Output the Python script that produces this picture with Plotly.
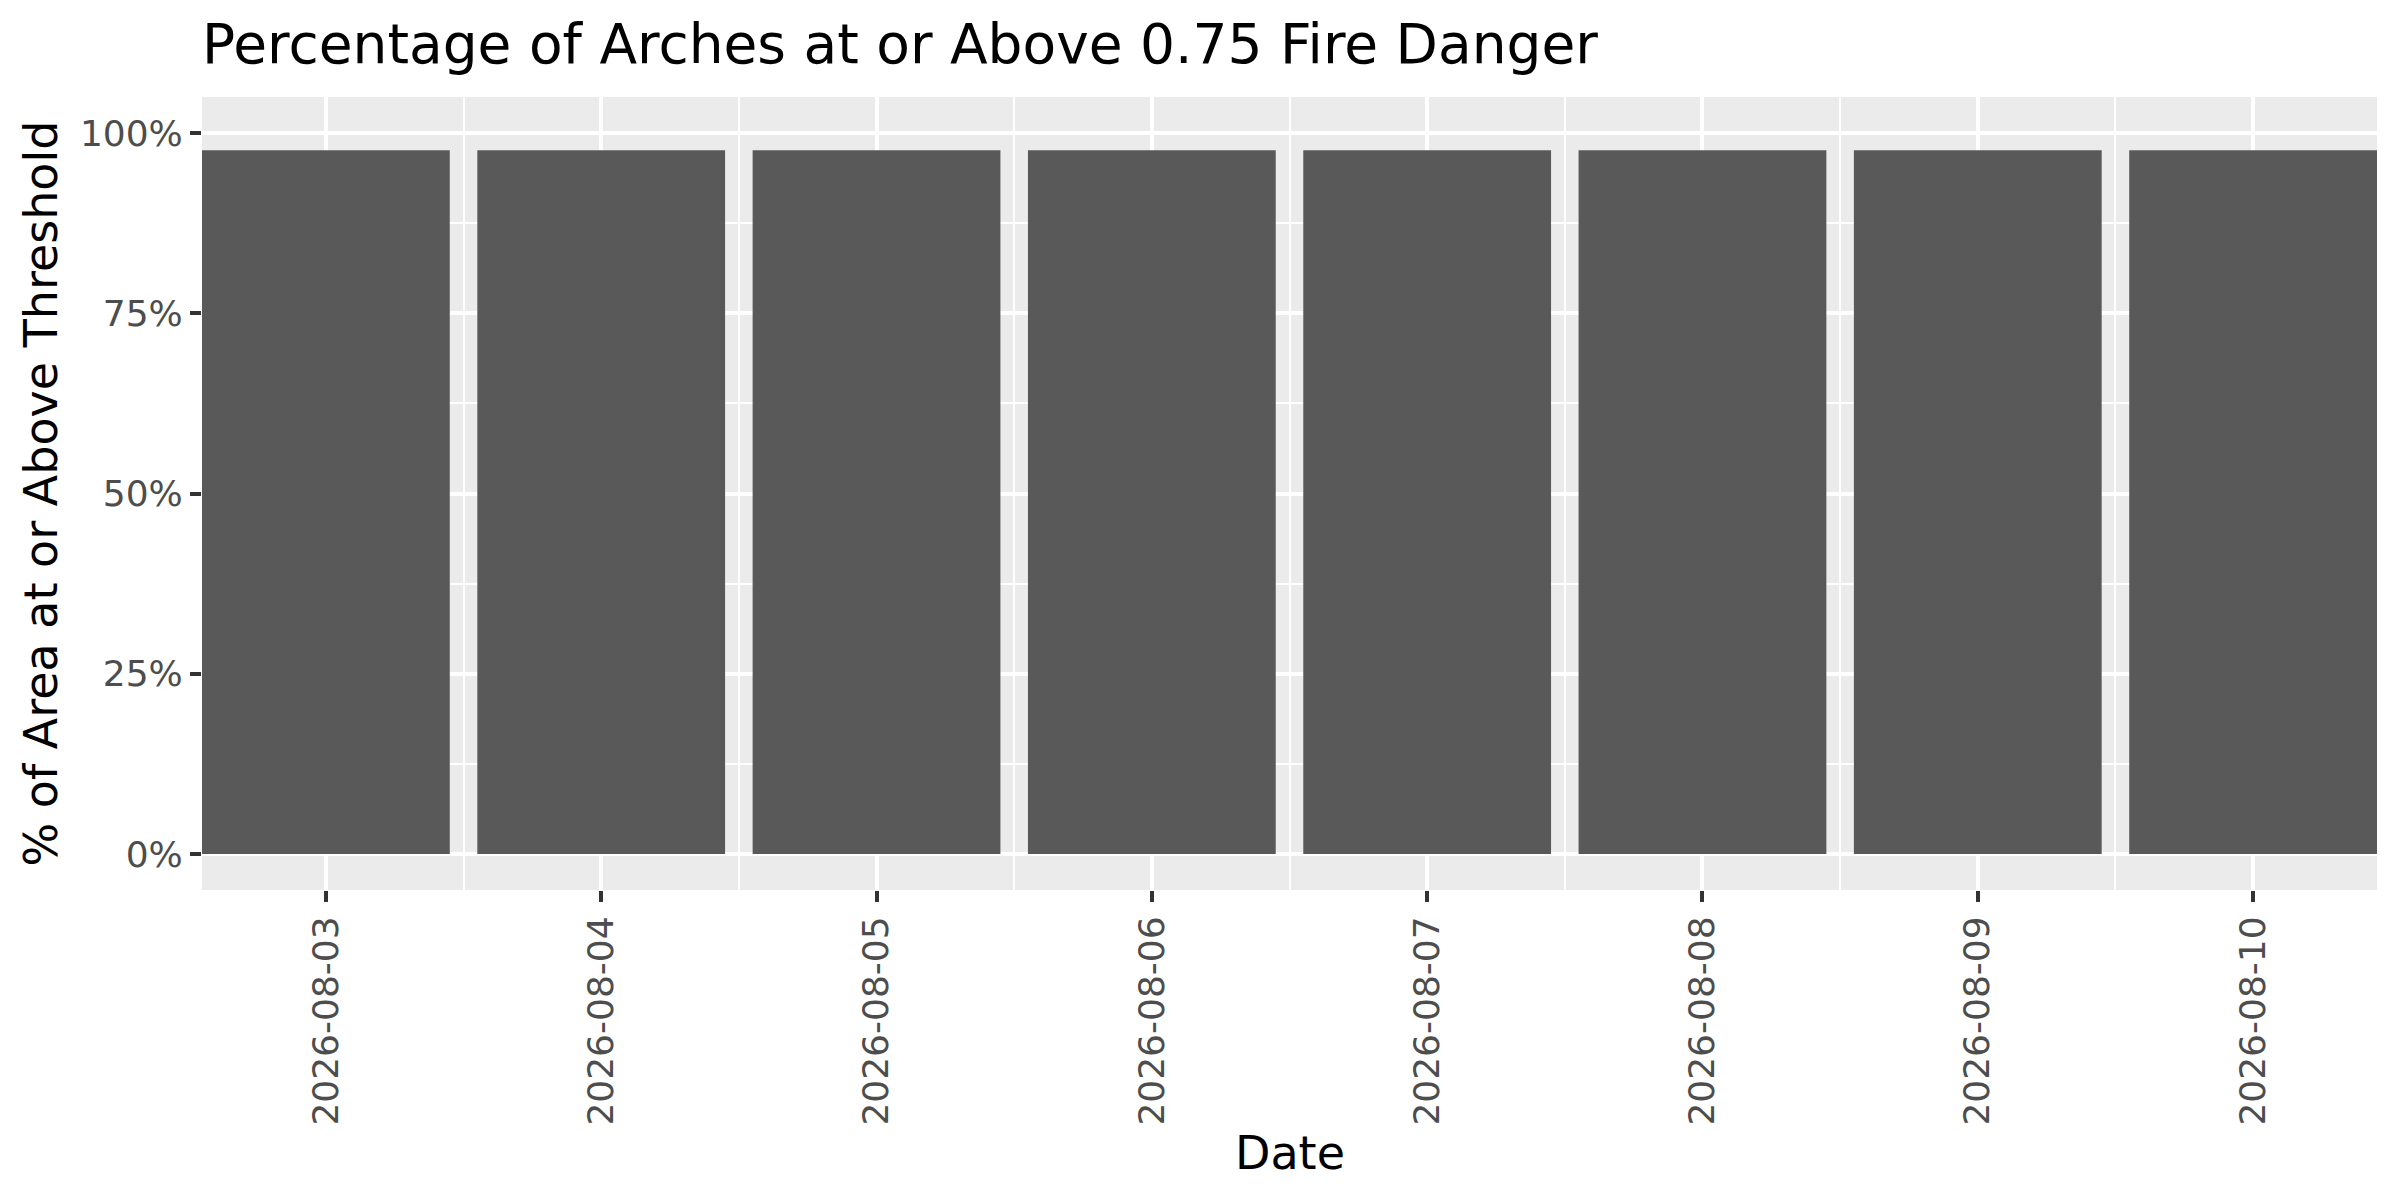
import pandas as pd
import plotly.graph_objects as go

# forecast dates and share of area at/above 0.75 fire danger
dates = ["2026-08-03", "2026-08-04", "2026-08-05", "2026-08-06",
         "2026-08-07", "2026-08-08", "2026-08-09", "2026-08-10"]
pct_above = [97.6, 97.6, 97.6, 97.6, 97.6, 97.6, 97.6, 97.6]
y_ticks = [0, 25, 50, 75, 100]
y_tick_labels = ["0%", "25%", "50%", "75%", "100%"]

day_ms = 86400000
x_dates = pd.to_datetime(dates)
x_lo = x_dates.min() - pd.Timedelta(hours=10.8)
x_hi = x_dates.max() + pd.Timedelta(hours=10.8)

font_family = "DejaVu Sans"

fig = go.Figure(go.Bar(
    x=x_dates,
    y=pct_above,
    width=0.9 * day_ms,
    marker=dict(color="#595959", line=dict(width=0)),
))

# page body adds ~8px offset, so margins are trimmed to compensate
fig.update_layout(
    width=2400, height=1200,
    margin=dict(l=194, r=31, t=89, b=318, autoexpand=False),
    paper_bgcolor="white",
    plot_bgcolor="#EBEBEB",
    showlegend=False,
    font=dict(family=font_family, color="black"),
    title=dict(text="Percentage of Arches at or Above 0.75 Fire Danger",
               font=dict(size=55, color="black", family=font_family),
               xref="paper", x=0, xanchor="left",
               yref="container", y=1 - 36 / 1200, yanchor="middle"),
)

fig.update_xaxes(
    type="date", range=[x_lo, x_hi],
    tick0=dates[0], dtick=day_ms, tickformat="%Y-%m-%d",
    tickangle=-90, ticks="outside", ticklen=11, tickwidth=4, tickcolor="#333333",
    tickfont=dict(size=36, color="#4D4D4D", family=font_family),
    showgrid=True, gridcolor="white", gridwidth=4.3,
    minor=dict(tick0="2026-08-03 12:00", dtick=day_ms, showgrid=True,
               gridcolor="white", gridwidth=2.2, ticks=""),
    zeroline=False, showline=False, automargin=False,
)

fig.update_yaxes(
    range=[-5, 105], tickvals=y_ticks, ticktext=y_tick_labels,
    ticks="outside", ticklen=11, tickwidth=4, tickcolor="#333333",
    tickfont=dict(size=36, color="#4D4D4D", family=font_family),
    showgrid=True, gridcolor="white", gridwidth=4.3,
    minor=dict(tick0=12.5, dtick=25, showgrid=True,
               gridcolor="white", gridwidth=2.2, ticks=""),
    zeroline=False, showline=False, automargin=False,
)

# axis titles
fig.add_annotation(text="% of Area at or Above Threshold", textangle=-90,
                   xref="paper", yref="paper", x=0, y=0.5,
                   xanchor="center", yanchor="middle", xshift=-162,
                   showarrow=False, font=dict(size=46, color="black", family=font_family))
fig.add_annotation(text="Date",
                   xref="paper", yref="paper", x=0.5, y=0,
                   xanchor="center", yanchor="middle", yshift=-263,
                   showarrow=False, font=dict(size=46, color="black", family=font_family))

fig.write_html("out.html")
